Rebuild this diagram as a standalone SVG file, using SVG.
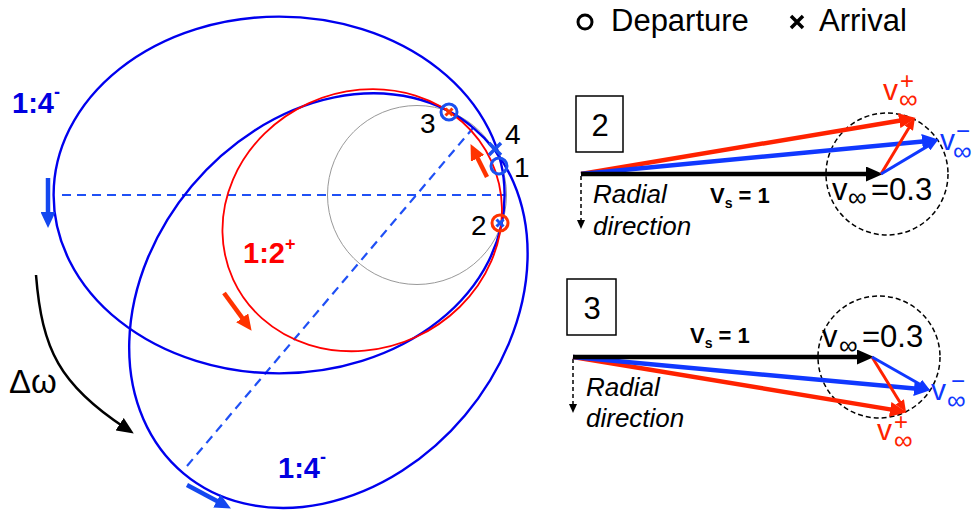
<svg xmlns="http://www.w3.org/2000/svg" width="974" height="510" viewBox="0 0 974 510">
<style>
text{font-family:"Liberation Sans",Arial,sans-serif}
.orbA{fill:none;stroke:#0000ee;stroke-width:2.4}
.orbR{fill:none;stroke:#ff0000;stroke-width:1.8}
.gray{fill:none;stroke:#999;stroke-width:1}
.apsis{fill:none;stroke:#1f50f5;stroke-width:2.2;stroke-dasharray:9 6}
.oarrB{stroke:#1448f0;stroke-width:4.5;fill:none}
.oarrR{stroke:#ff3300;stroke-width:4.5;fill:none}
.mkB{fill:none;stroke:#1a50f0;stroke-width:3}
.mkR{fill:none;stroke:#ff3300;stroke-width:3}
.num{font-size:28px;fill:#000}
.blab{font-size:29px;font-weight:bold;fill:#0000e0}
.rlab{font-size:29px;font-weight:bold;fill:#ff0000}
.box{fill:#fff;stroke:#000;stroke-width:1.5}
.vK{stroke:#000;stroke-width:4.5;fill:none}
.vR{stroke:#ff2200;stroke-width:4.5;fill:none}
.vB{stroke:#1038ff;stroke-width:4.5;fill:none}
.sR{stroke:#ff2200;stroke-width:3;fill:none}
.sB{stroke:#1038ff;stroke-width:3;fill:none}
.dc{fill:none;stroke:#000;stroke-width:1.5;stroke-dasharray:5 3}
.rad{stroke:#000;stroke-width:1.5;stroke-dasharray:4 3;fill:none}
.ital{font-size:26px;font-style:italic;fill:#000}
.vs{font-size:22px;font-weight:bold;fill:#000}
</style>
<defs>
<marker id="hK" markerUnits="userSpaceOnUse" markerWidth="17" markerHeight="15" refX="6" refY="7.5" orient="auto"><path d="M0,0 L17,7.5 L0,15 z" fill="#000"/></marker>
<marker id="hR" markerUnits="userSpaceOnUse" markerWidth="17" markerHeight="15" refX="6" refY="7.5" orient="auto"><path d="M0,0 L17,7.5 L0,15 z" fill="#ff2200"/></marker>
<marker id="hB" markerUnits="userSpaceOnUse" markerWidth="17" markerHeight="15" refX="6" refY="7.5" orient="auto"><path d="M0,0 L17,7.5 L0,15 z" fill="#1038ff"/></marker>
<marker id="sRm" markerUnits="userSpaceOnUse" markerWidth="12" markerHeight="10" refX="4" refY="5" orient="auto"><path d="M0,0 L12,5 L0,10 z" fill="#ff2200"/></marker>
<marker id="sBm" markerUnits="userSpaceOnUse" markerWidth="12" markerHeight="10" refX="4" refY="5" orient="auto"><path d="M0,0 L12,5 L0,10 z" fill="#1038ff"/></marker>
<marker id="dK" markerUnits="userSpaceOnUse" markerWidth="9" markerHeight="8" refX="4" refY="4" orient="auto"><path d="M0,0 L9,4 L0,8 z" fill="#000"/></marker>
<marker id="oB" markerUnits="userSpaceOnUse" markerWidth="16" markerHeight="15" refX="6" refY="7.5" orient="auto"><path d="M0,0 L16,7.5 L0,15 z" fill="#1448f0"/></marker>
<marker id="oR" markerUnits="userSpaceOnUse" markerWidth="16" markerHeight="15" refX="6" refY="7.5" orient="auto"><path d="M0,0 L16,7.5 L0,15 z" fill="#ff3300"/></marker>
</defs>

<g id="orbits">
  <circle id="planet-orbit" class="gray" cx="417" cy="195" r="89.5"/>
  <line class="apsis" x1="62" y1="195" x2="505" y2="195"/>
  <line class="apsis" x1="187" y1="466" x2="473" y2="128"/>
  <ellipse id="orbit-1-4-a" class="orbA" cx="279.1" cy="195" rx="225.5" ry="178.4"/>
  <ellipse id="orbit-1-4-b" class="orbA" cx="328.4" cy="300.6" rx="225.5" ry="178.4" transform="rotate(-50 328.4 300.6)"/>
  <ellipse id="orbit-1-2" class="orbR" cx="362.2" cy="220.2" rx="142" ry="128.6" transform="rotate(-24.7 362.2 220.2)"/>
</g>

<g id="connectors">
  <line class="oarrB" x1="48" y1="178" x2="48" y2="218" marker-end="url(#oB)"/>
  <line class="oarrB" x1="187" y1="485" x2="222.1" y2="503.8" marker-end="url(#oB)"/>
  <line class="oarrR" x1="224" y1="293" x2="245.7" y2="322.7" marker-end="url(#oR)"/>
  <line class="oarrR" x1="487" y1="177" x2="475" y2="153" marker-end="url(#oR)"/>
  <path d="M36,275 C42,350 60,385 124.6,427.5" fill="none" stroke="#000" stroke-width="2.5" marker-end="url(#hK)"/>
</g>

<g id="point-3">
  <circle class="mkB" cx="449" cy="112" r="8"/>
  <path class="mkR" d="M445.5,108.5 L452.5,115.5 M452.5,108.5 L445.5,115.5"/>
  <text class="num" x="420" y="133">3</text>
</g>
<g id="point-4">
  <path d="M489,143 L501,155 M501,143 L489,155" stroke="#1a50f0" stroke-width="3.5" fill="none"/>
  <text class="num" x="505" y="144">4</text>
</g>
<g id="point-1">
  <circle class="mkB" cx="499" cy="166" r="8"/>
  <text class="num" x="514" y="177">1</text>
</g>
<g id="point-2">
  <circle class="mkR" cx="500" cy="223" r="8"/>
  <path d="M496.5,219.5 L503.5,226.5 M503.5,219.5 L496.5,226.5" stroke="#1a50f0" stroke-width="3" fill="none"/>
  <text class="num" x="471" y="235">2</text>
</g>

<g id="labels-left">
  <text class="blab" x="12" y="113">1:4<tspan font-size="18" dy="-15">-</tspan></text>
  <text class="rlab" x="243" y="263">1:2<tspan font-size="18" dy="-13">+</tspan></text>
  <text class="blab" x="278" y="478">1:4<tspan font-size="18" dy="-15">-</tspan></text>
  <text x="9" y="393" font-size="33" fill="#000">Δω</text>
</g>

<g id="legend">
  <circle cx="585" cy="22" r="7" fill="none" stroke="#000" stroke-width="3"/>
  <text x="611" y="31" font-size="31" fill="#000">Departure</text>
  <path d="M791,16 L803,28 M803,16 L791,28" stroke="#000" stroke-width="3.5" fill="none"/>
  <text x="819" y="31" font-size="31" fill="#000">Arrival</text>
</g>

<g id="panel-2">
  <rect class="box" x="576" y="96" width="47" height="56"/>
  <text x="600" y="136" font-size="31" text-anchor="middle" fill="#000">2</text>
  <circle class="dc" cx="887" cy="174" r="61"/>
  <line class="rad" x1="581" y1="176" x2="581" y2="224" marker-end="url(#dK)"/>
  <line class="vR" x1="581" y1="174" x2="905.1" y2="119.7" marker-end="url(#hR)"/>
  <line class="vB" x1="581" y1="174" x2="928" y2="140.9" marker-end="url(#hB)"/>
  <line class="vK" x1="581" y1="174" x2="872" y2="174" marker-end="url(#hK)"/>
  <line class="sR" x1="881" y1="174" x2="910.8" y2="124.8" marker-end="url(#sRm)"/>
  <line class="sB" x1="881" y1="174" x2="931.1" y2="144.1" marker-end="url(#sBm)"/>
  <text class="ital" x="593" y="203">Radial</text>
  <text class="ital" x="593" y="235">direction</text>
  <text class="vs" x="710" y="203">V<tspan font-size="14" dy="5">s</tspan><tspan dy="-5"> = 1</tspan></text>
  <text font-size="31" fill="#000"><tspan x="832" y="200">v</tspan><tspan x="848" y="206" font-size="26">∞</tspan><tspan x="871" y="200">=0.3</tspan></text>
  <text font-size="30" fill="#ff2200"><tspan x="883" y="100">v</tspan><tspan x="900" y="89" font-size="24">+</tspan><tspan x="899" y="108" font-size="26">∞</tspan></text>
  <text font-size="30" fill="#1038ff"><tspan x="940" y="150">v</tspan><tspan x="956" y="139" font-size="24">−</tspan><tspan x="953" y="160" font-size="26">∞</tspan></text>
</g>

<g id="panel-3">
  <rect class="box" x="567" y="279" width="49" height="56"/>
  <text x="592" y="319" font-size="31" text-anchor="middle" fill="#000">3</text>
  <circle class="dc" cx="879" cy="357" r="61"/>
  <line class="rad" x1="573" y1="359" x2="573" y2="408" marker-end="url(#dK)"/>
  <line class="vR" x1="573" y1="357" x2="896.1" y2="410.4" marker-end="url(#hR)"/>
  <line class="vB" x1="573" y1="357" x2="920" y2="389.1" marker-end="url(#hB)"/>
  <line class="vK" x1="573" y1="357" x2="863" y2="357" marker-end="url(#hK)"/>
  <line class="sR" x1="872" y1="357" x2="901.8" y2="405.2" marker-end="url(#sRm)"/>
  <line class="sB" x1="872" y1="357" x2="923" y2="386" marker-end="url(#sBm)"/>
  <text class="ital" x="586" y="396">Radial</text>
  <text class="ital" x="586" y="427">direction</text>
  <text class="vs" x="690" y="343">V<tspan font-size="14" dy="5">s</tspan><tspan dy="-5"> = 1</tspan></text>
  <text font-size="31" fill="#000"><tspan x="822" y="347">v</tspan><tspan x="839" y="354" font-size="26">∞</tspan><tspan x="862" y="347">=0.3</tspan></text>
  <text font-size="30" fill="#ff2200"><tspan x="877" y="440">v</tspan><tspan x="894" y="430" font-size="24">+</tspan><tspan x="894" y="449" font-size="26">∞</tspan></text>
  <text font-size="30" fill="#1038ff"><tspan x="931" y="400">v</tspan><tspan x="951" y="389" font-size="24">−</tspan><tspan x="947" y="409" font-size="26">∞</tspan></text>
</g>
</svg>
